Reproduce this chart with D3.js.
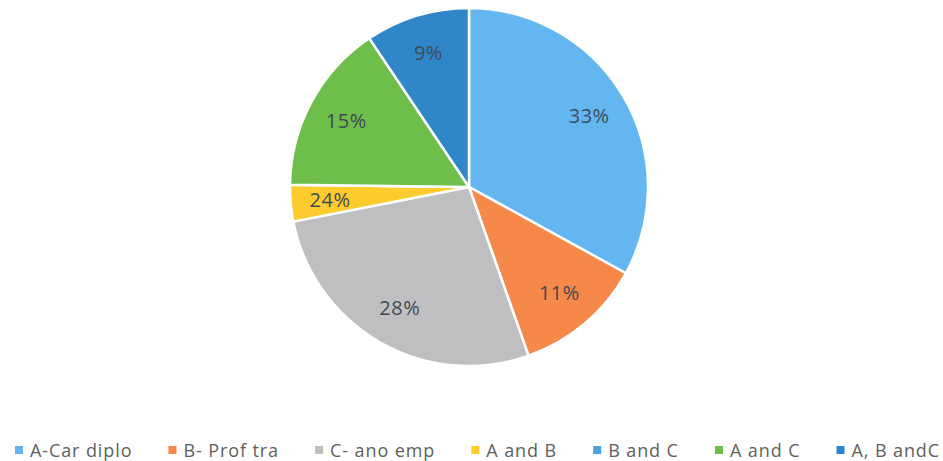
<!DOCTYPE html>
<html><head><meta charset="utf-8">
<script src="https://cdn.jsdelivr.net/npm/d3@7"></script>
<style>body{margin:0;background:#fff;} svg{display:block;}</style>
</head><body>
<svg id="c" width="943" height="461"></svg>
<script>
const categories = ["A-Car diplo","B- Prof tra","C- ano emp","A and B","B and C","A and C","A, B andC"];
const values = [33, 11.6, 27.3, 3.3, 0, 15.4, 9.4];
const labels = ["33%","11%","28%","24%","","15%","9%"];
const colors = ["#63B6F0","#F6884A","#BFBFC1","#FECB2E","#4BA2E4","#6DBE4B","#2F86C9"];

const svg = d3.select("#c");
const cx = 469, cy = 187, R = 179;
const font = "'Open Sans', Lato, sans-serif";
const data = categories.map((c,i)=>({c, v:values[i], l:labels[i], col:colors[i]}));
const pie = d3.pie().value(d=>d.v).sort(null);
const arc = d3.arc().innerRadius(0).outerRadius(R);
const lab = d3.arc().innerRadius(R*0.78).outerRadius(R*0.78);
const g = svg.append("g").attr("transform",`translate(${cx},${cy})`);
const arcs = pie(data);
g.selectAll("path").data(arcs).join("path")
  .attr("d",arc).attr("fill",d=>d.data.col)
  .attr("stroke","#fff").attr("stroke-width",2.5).attr("stroke-linejoin","round");
g.selectAll("text").data(arcs.filter(d=>d.data.l)).join("text")
  .attr("transform",d=>`translate(${lab.centroid(d)})`)
  .attr("text-anchor","middle").attr("dy","0.35em")
  .attr("font-family",font).attr("font-size",20).attr("letter-spacing",0.5).attr("fill","#404a55")
  .text(d=>d.data.l);

const lg = svg.append("g");
const items = [];
data.forEach(d=>{
  const it = lg.append("g");
  it.append("rect").attr("x",0).attr("y",-4).attr("width",8).attr("height",8).attr("fill",d.col);
  const t = it.append("text").attr("x",15).attr("y",6.5)
    .attr("font-family",font).attr("font-size",18).attr("letter-spacing",0.9).attr("fill","#606060").text(d.c);
  items.push({it, w:15+t.node().getComputedTextLength()});
});
const x0 = 15, x1 = 940;
const sumW = items.reduce((s,a)=>s+a.w,0);
const gap = (x1-x0-sumW)/(items.length-1);
let x = x0;
items.forEach(a=>{ a.it.attr("transform",`translate(${x},450)`); x += a.w+gap; });
</script>
</body></html>
